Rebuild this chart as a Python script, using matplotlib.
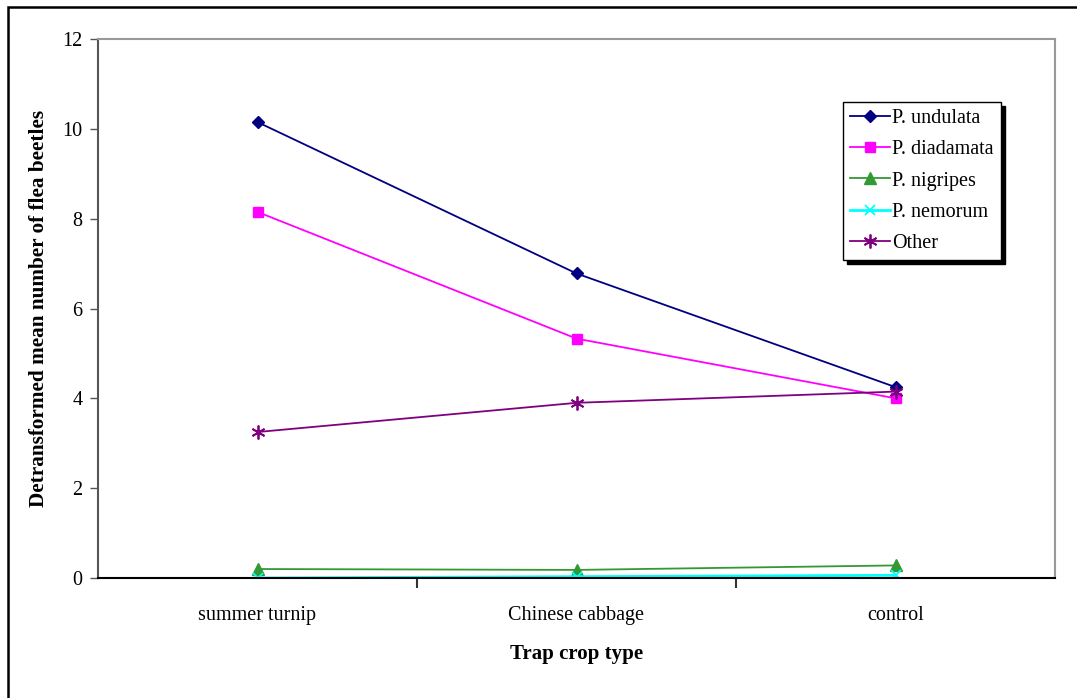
import matplotlib.pyplot as plt
from matplotlib.patches import Rectangle
import numpy as np

plt.rcParams['font.family'] = ['Liberation Serif', 'DejaVu Serif']

crops = ["summer turnip", "Chinese cabbage", "control"]
undulata = [10.15, 6.78, 4.25]
diadamata = [8.15, 5.33, 4.00]
nigripes = [0.20, 0.18, 0.28]
nemorum = [0.00, 0.03, 0.06]
other = [3.25, 3.90, 4.15]

fig = plt.figure(figsize=(10.77, 6.98), dpi=100)
ax = fig.add_axes([98/1077, 1 - 578/698, (1055 - 98)/1077, (578 - 39)/698])

# frame around the whole chart (runs off the right and bottom)
fig.patches.append(Rectangle((8/1077, -0.1), 1.2, 1 - 7/698 + 0.1, transform=fig.transFigure,
                             fill=False, edgecolor='black', linewidth=1.8))

x = np.arange(len(crops))
ax.plot(x, undulata, color='#000080', marker='D', markersize=6, lw=1.3, label='P. undulata')
ax.plot(x, diadamata, color='#ff00ff', marker='s', markersize=6.5, lw=1.3, label='P. diadamata')
ax.plot(x, nigripes, color='#339933', marker='^', markersize=8, lw=1.3, label='P. nigripes')
ax.plot(x, nemorum, color='#00ffff', marker='x', markersize=7, mew=1.3, lw=2, label='P. nemorum')
ax.plot(x, other, color='#800080', marker=(6, 2, 0), markersize=10, mew=1.3, lw=1.3, label='Other')

ax.set_xlim(-0.5, 2.5)
ax.set_ylim(0, 12)
ax.set_yticks(range(0, 13, 2))
ax.set_xticks(x)
ax.set_xticklabels(crops)
ax.set_xticks([0.5, 1.5], minor=True)
ax.tick_params(axis='x', which='major', length=0, pad=20, labelsize=14.5)
ax.tick_params(axis='x', which='minor', length=7, width=1.5, color='#333333')
ax.tick_params(axis='y', length=6, width=1, color='#555555', labelsize=14.5, pad=5)

for side in ['top', 'right']:
    ax.spines[side].set_color('#999999')
    ax.spines[side].set_linewidth(1.5)
ax.spines['left'].set_color('#555555')
ax.spines['left'].set_linewidth(1.5)
ax.spines['bottom'].set_color('black')
ax.spines['bottom'].set_linewidth(1.5)

ax.set_xlabel('Trap crop type', fontsize=15, fontweight='bold', labelpad=14)
ax.set_ylabel('Detransformed mean number of flea beetles', fontsize=15.3, fontweight='bold', labelpad=10)

leg = ax.legend(loc='upper left', bbox_to_anchor=(843/1077, 1 - 102/698), bbox_transform=fig.transFigure,
                fontsize=14.5, frameon=True, fancybox=False,
                shadow={'color': 'black', 'alpha': 1, 'ox': 3, 'oy': -3}, borderpad=0.35,
                labelspacing=0.6, handlelength=2.0, handletextpad=0.1, borderaxespad=0)
leg.get_frame().set_edgecolor('black')
leg.get_frame().set_linewidth(1)

fig.savefig('out.png', dpi=100)
